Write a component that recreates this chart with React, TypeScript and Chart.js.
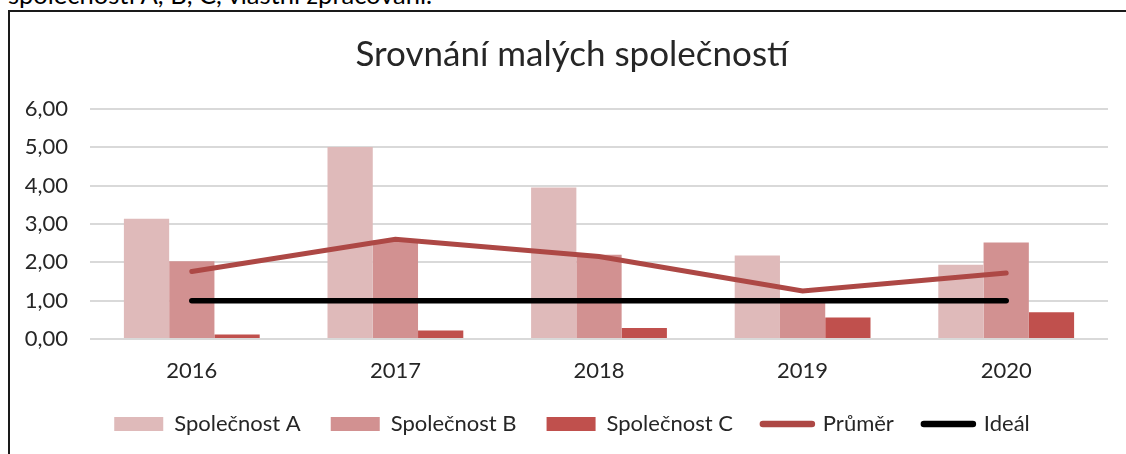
import React, { useEffect, useRef } from 'react';
import { Chart, registerables } from 'chart.js';

Chart.register(...registerables);

const years = ['2016', '2017', '2018', '2019', '2020'];
const companyA = [3.14, 5.01, 3.95, 2.18, 1.94];
const companyB = [2.03, 2.57, 2.2, 1.0, 2.52];
const companyC = [0.12, 0.22, 0.29, 0.56, 0.7];
const average = [1.76, 2.6, 2.15, 1.25, 1.72];
const ideal = [1, 1, 1, 1, 1];
const seriesLabels = ['Společnost A', 'Společnost B', 'Společnost C', 'Průměr', 'Ideál'];
const titleText = 'Srovnání malých společností';
const captionText = 'společnosti A, B, C, vlastní zpracování.';

const FONT = 'Lato';
const TEXT = '#262626';

export default function App() {
  const ref = useRef<HTMLCanvasElement>(null);

  useEffect(() => {
    const canvas = ref.current;
    if (!canvas) return;
    const chart = new Chart(canvas, {
      type: 'bar',
      data: {
        labels: years,
        datasets: [
          { type: 'bar', label: seriesLabels[0], data: companyA, backgroundColor: '#dfbaba', borderWidth: 0, order: 1, categoryPercentage: 0.667, barPercentage: 1 },
          { type: 'bar', label: seriesLabels[1], data: companyB, backgroundColor: '#d29191', borderWidth: 0, order: 1, categoryPercentage: 0.667, barPercentage: 1 },
          { type: 'bar', label: seriesLabels[2], data: companyC, backgroundColor: '#c0504d', borderWidth: 0, order: 1, categoryPercentage: 0.667, barPercentage: 1 },
          { type: 'line', label: seriesLabels[3], data: average, borderColor: '#ad4845', backgroundColor: '#ad4845', borderWidth: 5, pointRadius: 0, borderCapStyle: 'round', borderJoinStyle: 'miter', tension: 0, order: 0 },
          { type: 'line', label: seriesLabels[4], data: ideal, borderColor: '#000000', backgroundColor: '#000000', borderWidth: 5.5, pointRadius: 0, borderCapStyle: 'round', tension: 0, order: 0 },
        ] as any,
      },
      options: {
        responsive: false,
        animation: false,
        layout: { padding: { top: 0, left: 0, right: 0, bottom: 9 } },
        plugins: {
          tooltip: { enabled: false },
          title: {
            display: true,
            text: titleText,
            color: TEXT,
            font: { family: FONT, size: 35, weight: 'normal' },
            padding: { top: 22, bottom: 33 },
          },
          legend: {
            position: 'bottom',
            labels: {
              color: TEXT,
              font: { family: FONT, size: 22 },
              usePointStyle: true,
              boxHeight: 14,
              pointStyleWidth: 49,
              padding: 30,
              sort: (a: any, b: any) => a.datasetIndex - b.datasetIndex,
              generateLabels: (chart: any) => {
                const items = Chart.defaults.plugins.legend.labels.generateLabels(chart);
                return items.map((it: any) => {
                  const ds = chart.data.datasets[it.datasetIndex];
                  it.pointStyle = ds.type === 'line' ? 'line' : 'rect';
                  if (ds.type === 'line') {
                    it.lineWidth = 6.5;
                    it.strokeStyle = ds.borderColor;
                    it.lineCap = 'round';
                  } else {
                    it.lineWidth = 0;
                  }
                  return it;
                });
              },
            },
          },
        },
        scales: {
          x: {
            grid: { display: false, drawTicks: false },
            border: { display: false },
            ticks: { color: TEXT, font: { family: FONT, size: 22 }, padding: 19 },
            afterFit: (s: any) => { s.height = 44; },
          },
          y: {
            min: 0,
            max: 6,
            grid: { color: '#d9d9d9', lineWidth: 2, drawTicks: false },
            border: { display: false },
            ticks: {
              stepSize: 1,
              color: TEXT,
              font: { family: FONT, size: 22 },
              padding: 22,
              callback: (v: any) => Number(v).toFixed(2).replace('.', ','),
            },
            afterFit: (s: any) => { s.width = 80; },
          },
          y2: {
            position: 'right',
            display: true,
            grid: { display: false, drawTicks: false },
            border: { display: false },
            ticks: { display: false },
            afterFit: (s: any) => { s.width = 26; },
          },
        },
      } as any,
    });
    return () => chart.destroy();
  }, []);

  return (
    <div style={{ position: 'absolute', left: 0, top: 0, width: 1126, height: 454, overflow: 'hidden', background: '#fff' }}>
      <div style={{ position: 'absolute', left: 8, top: -18, fontFamily: FONT, fontSize: 25.5, lineHeight: '25.5px', color: '#000', whiteSpace: 'nowrap' }}>
        {captionText}
      </div>
      <div style={{ position: 'absolute', left: 8, top: 10, width: 1124, height: 460, borderLeft: '2px solid #1a1a1a', borderTop: '2px solid #1a1a1a', background: '#fff' }}>
        <canvas ref={ref} width={1124} height={442} style={{ display: 'block', width: 1124, height: 442 }} />
      </div>
    </div>
  );
}
